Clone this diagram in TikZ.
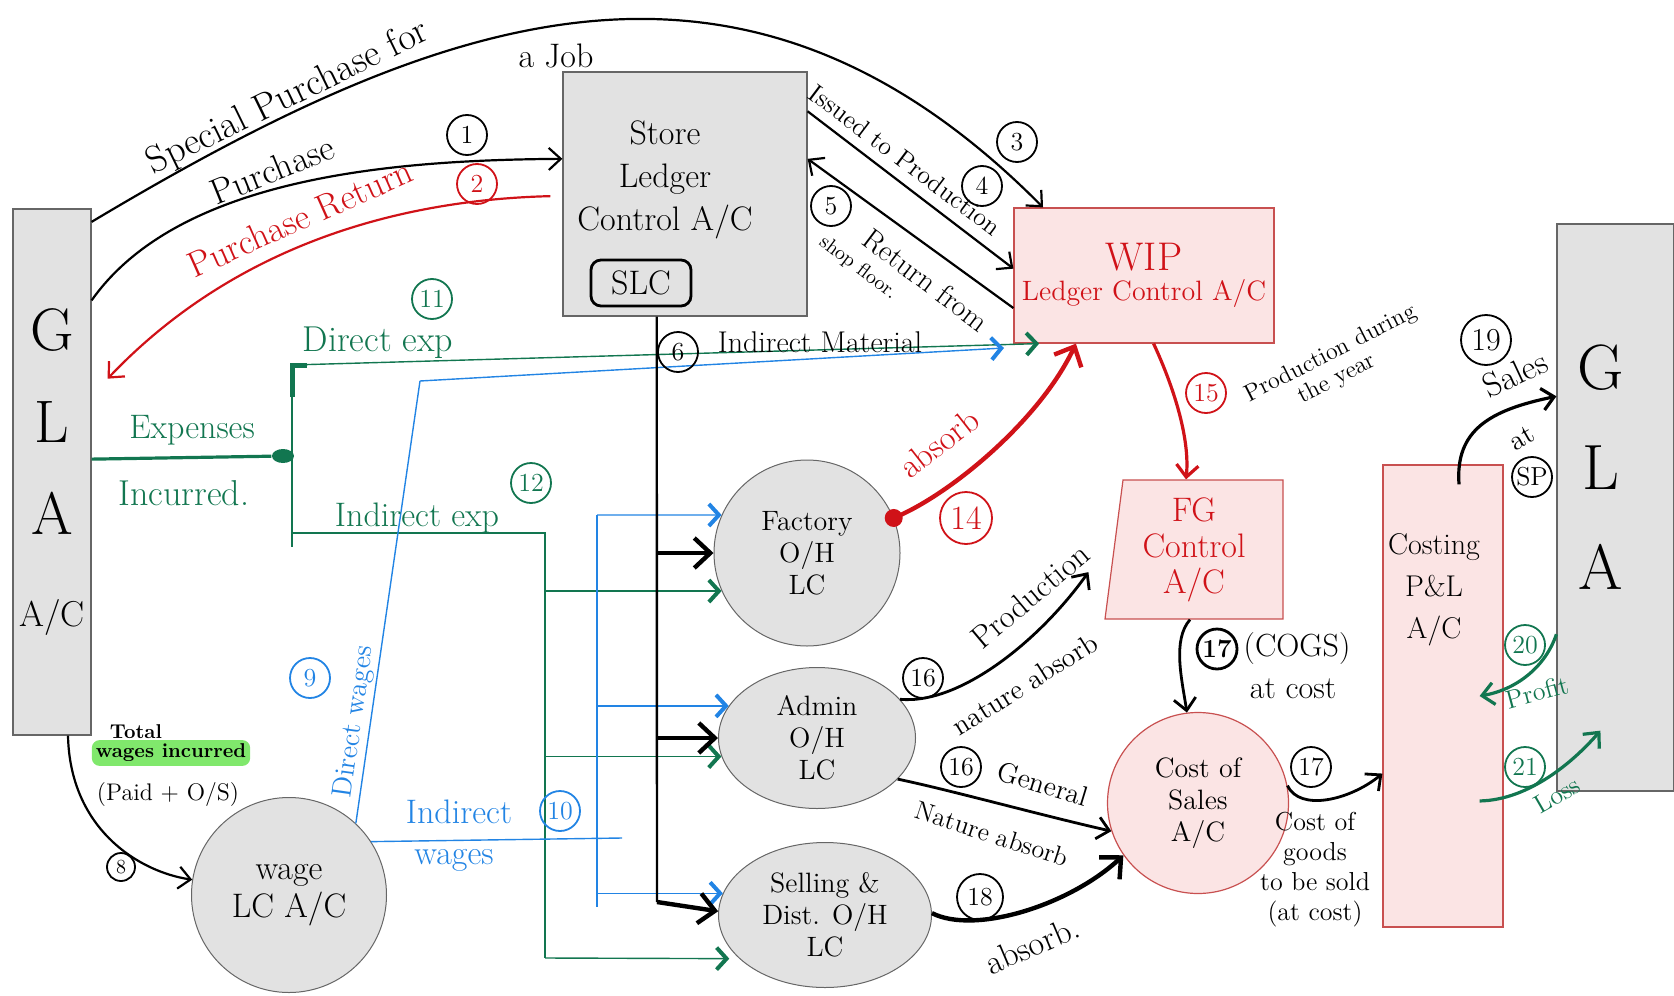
\documentclass[tikz,border=0pt]{standalone}
\usepackage{tikz}
\usetikzlibrary{arrows.meta,shapes.geometric}
\definecolor{inkred}{RGB}{208,18,24}
\definecolor{inkgreen}{RGB}{18,118,80}
\definecolor{inkblue}{RGB}{34,132,228}
\definecolor{boxgray}{RGB}{226,226,226}
\definecolor{boxpink}{RGB}{251,228,228}
\definecolor{pinkline}{RGB}{200,80,80}
\definecolor{hlgreen}{RGB}{128,232,108}
\newcommand{\fsz}[1]{\fontsize{#1}{#1}\selectfont}
\tikzset{
  >={Straight Barb[length=6pt,width=11pt]},
  acc/.style={draw=gray!80!black,fill=boxgray,line width=0.6pt,inner sep=0pt},
  pk/.style={draw=pinkline,fill=boxpink,line width=0.6pt,inner sep=0pt},
  oh/.style={ellipse,draw=gray!80!black,fill=boxgray,line width=0.5pt,inner sep=0pt,align=center,font=\fontsize{14}{16}\selectfont},
  num/.style={circle,draw,line width=0.9pt,inner sep=0.5pt,minimum size=20pt,font=\fsz{13}},
  lbl/.style={inner sep=0pt,font=\fsz{15}},
  ink/.style={line width=1.1pt},
  fat/.style={line width=2.2pt,-{Straight Barb[length=8pt,width=15pt]}},
  feed/.style={line width=0.7pt,-{Straight Barb[line width=2pt,length=5pt,width=11pt]}},
  every picture/.style={line width=0.6pt},
}
\begin{document}
\begin{tikzpicture}[x=0.5pt,y=-0.5pt]
\useasboundingbox (0,0) rectangle (1674,995);
\node[acc,minimum width=39pt,minimum height=263pt,align=center,font=\fontsize{30}{46}\selectfont] (gla) at (52,472) {G\\L\\A\\{\fontsize{18}{46}\selectfont A/C}};
\node[acc,minimum width=58.5pt,minimum height=283.5pt] (glar) at (1615.5,507.5) {};
\node[lbl,align=center,font=\fontsize{32}{50}\selectfont] (glartxt) at (1601,467) {G\\L\\A};
\node[acc,minimum width=122pt,minimum height=122pt] (store) at (685,194) {};
\node[lbl,align=center,font=\fontsize{17}{21.5}\selectfont] (storetxt) at (665,180) {Store\\Ledger\\Control A/C};
\node[draw,line width=1.4pt,rounded corners=5pt,minimum width=50pt,minimum height=23pt,inner sep=2pt,font=\fsz{17}] (slc) at (641,283) {SLC};
\node[pk,minimum width=130pt,minimum height=67.5pt,align=center,text=inkred] (wip) at (1144,275.5) {\fsz{20}WIP\\[3pt]\fsz{14}Ledger Control A/C};
\draw[pk] (1123,480) -- (1283,480) -- (1283,619) -- (1105,619) -- cycle;
\node[minimum width=89pt,minimum height=69.5pt,inner sep=0pt,align=center,text=inkred,font=\fontsize{17}{18}\selectfont] (fg) at (1194,549.5) {FG\\Control\\A/C};
\node[pk,minimum width=60pt,minimum height=231pt] (costing) at (1443,696) {};
\node[lbl,align=center,font=\fontsize{15}{21}\selectfont] (costingtxt) at (1434,590) {Costing\\P\&L\\A/C};
\node[oh,circle,minimum size=97.5pt,font=\fontsize{17}{19}\selectfont] (wage) at (289,895) {wage\\LC A/C};
\node[oh,circle,minimum size=93pt] (factory) at (807,553) {Factory\\O/H\\LC};
\node[oh,minimum width=98.5pt,minimum height=70.5pt] (admin) at (817,738) {Admin\\O/H\\LC};
\node[oh,minimum width=106.5pt,minimum height=72.5pt] (selling) at (825,915) {Selling \&\\Dist. O/H\\LC};
\node[pk,circle,minimum size=90.5pt,align=center,font=\fontsize{14}{16}\selectfont] (cos) at (1198,803) {Cost of\\Sales\\A/C};
\node[ellipse,fill=inkgreen,minimum width=11pt,minimum height=7pt,inner sep=0pt] (dot) at (283,456) {};
\node[circle,fill=inkred,minimum size=9pt,inner sep=0pt] (rdot) at (factory.22) {};
\coordinate (gtop) at (292,365); \coordinate (gbot) at (292,547);
\coordinate (ietop) at (545,533); \coordinate (iebot) at (545,958);
\coordinate (dwknee) at (420,381); \coordinate (dwend) at (1004,348);
\coordinate (bvtop) at (597,515); \coordinate (bvbot) at (597,907);
\coordinate (iwend) at (622,838); \coordinate (vbot) at (657,902);
\draw[ink,->] (gla.81) .. controls (446,10) and (743,-95) .. (wip.146);
\draw[ink,->] (gla.77) .. controls (180,175) and (400,160) .. (store.164);
\draw[ink,inkred,->] ([xshift=-6pt]store.181) .. controls (390,200) and (230,250) .. ([xshift=8pt]gla.67);
\draw[ink,->] (store.34) -- (wip.177); \draw[ink,->] (wip.194) -- (store.16);
\draw[inkgreen,line width=1.6pt] (gla.18) -- (dot);
\draw[inkgreen,line width=0.9pt] (gtop) -- (gbot);
\draw[inkgreen,line width=2.5pt] ([yshift=-16pt]gtop) -- (gtop) -- ++(15,0);
\draw[inkgreen,feed] (gtop) -- (wip.213);
\draw[inkgreen,line width=0.9pt] (gbot |- ietop) -- (ietop) -- (iebot);
\draw[inkgreen,feed] (factory.204 -| ietop) -- (factory.204);
\draw[inkgreen,feed] (admin.191 -| ietop) -- (admin.191);
\draw[inkgreen,feed,shorten >=5pt] (iebot) -- (selling.207);
\draw[inkblue,line width=0.7pt] (wage.47) -- (dwknee);
\draw[inkblue,feed] (dwknee) -- (dwend);
\draw[inkblue,line width=0.7pt] (bvtop) -- (bvbot);
\draw[inkblue,feed] (bvtop) -- (factory.156);
\draw[inkblue,feed] (admin.160 -| bvtop) -- (admin.160);
\draw[inkblue,feed] (selling.168 -| bvtop) -- (selling.168);
\draw[inkblue,line width=0.7pt] (wage.33) -- (iwend);
\draw[line width=1.2pt] (store.257) -- (vbot);
\draw[fat] (factory.180 -| vbot) -- (factory.180);
\draw[fat] (admin.180 -| vbot) -- (admin.180);
\draw[fat] (vbot) -- (selling.178);
\draw[fat,inkred] (rdot.center) .. controls (950,495) and (1040,420) .. (wip.225);
\draw[inkred,line width=1.6pt,->] (wip.278) .. controls (1175,390) and (1190,440) .. ([xshift=-4pt]fg.north);
\draw[ink,line width=1.4pt,->] (admin.25) .. controls (960,705) and (1040,640) .. ([xshift=-8pt,yshift=5pt]fg.200);
\draw[ink,line width=1.4pt,->] (admin.333) .. controls (950,790) and (1040,815) .. (cos.198);
\draw[fat] (selling.1) .. controls (975,935) and (1070,905) .. (cos.215);
\draw[ink,line width=1.4pt,->] ([xshift=-2pt]fg.south) .. controls (1172,640) and (1182,680) .. (cos.97);
\draw[ink,line width=1.4pt,->] (cos.11) .. controls (1300,812) and (1350,800) .. (costing.232);
\draw[ink,line width=1.6pt,->] ([xshift=8pt,yshift=-10pt]costing.north) .. controls (1455,430) and (1490,410) .. (glar.118);
\draw[inkgreen,line width=1.6pt,->] (glar.245) .. controls (1545,668) and (1515,690) .. ([xshift=-12pt]costing.east);
\draw[inkgreen,line width=1.6pt,->] ([xshift=-12pt]costing.300) .. controls (1530,800) and (1575,760) .. ([xshift=22pt,yshift=7pt]glar.256);
\draw[ink,->] ([xshift=8pt]gla.south) .. controls (70,830) and (140,872) .. (wage.171);
\node[lbl,rotate=26,font=\fsz{19}] (splbl) at (288,98) {Special Purchase for};
\node[lbl,font=\fsz{17}] (joblbl) at (556,56) {a Job};
\node[lbl,rotate=22,font=\fsz{18}] (purlbl) at (272,170) {Purchase};
\node[lbl,rotate=24,font=\fsz{18},text=inkred] (prlbl) at (300,218) {Purchase Return};
\node[lbl,rotate=-37,font=\fsz{13}] (isslbl) at (905,160) {Issued to Production};
\node[lbl,rotate=-37] (retlbl) at (926,280) {Return from};
\node[lbl,rotate=-37,font=\fsz{10}] (shoplbl) at (858,268) {shop floor.};
\node[lbl] (imlbl) at (820,342) {Indirect Material};
\node[lbl,font=\fsz{18},text=inkgreen] (dexlbl) at (378,343) {Direct exp};
\node[lbl,font=\fsz{17},text=inkgreen] (explbl) at (192,430) {Expenses};
\node[lbl,font=\fsz{18},text=inkgreen] (inclbl) at (184,493) {Incurred.};
\node[lbl,font=\fsz{17},text=inkgreen] (iexlbl) at (417,518) {Indirect exp};
\node[lbl,rotate=82,font=\fsz{14},text=inkblue] (dwlbl) at (355,722) {Direct wages};
\node[lbl,font=\fsz{17},text=inkblue] (iwlbl) at (459,812) {Indirect};
\node[lbl,font=\fsz{17},text=inkblue] (iwlbl2) at (454,860) {wages};
\node[lbl,font=\bfseries\fsz{10}] (totlbl) at (136,732) {Total};
\node[lbl,font=\bfseries\fsz{10},fill=hlgreen,rounded corners=4pt,inner sep=2pt] (wilbl) at (171,753) {wages incurred};
\node[lbl,font=\fsz{12}] (paidlbl) at (168,795) {(Paid + O/S)};
\node[lbl,rotate=38,font=\fsz{17},text=inkred] (abslbl) at (939,443) {absorb};
\node[lbl,rotate=27,font=\fsz{12}] (pdlbl) at (1331,354) {Production during};
\node[lbl,rotate=27,font=\fsz{12}] (yrlbl) at (1337,379) {the year};
\node[lbl,rotate=40,font=\fsz{16}] (p16lbl) at (1030,596) {Production};
\node[lbl,rotate=32,font=\fsz{14}] (na16lbl) at (1025,684) {nature absorb};
\node[lbl,rotate=-17,font=\fsz{14}] (genlbl) at (1043,784) {General};
\node[lbl,rotate=-18,font=\fsz{13}] (nalbl) at (992,834) {Nature absorb};
\node[lbl,rotate=23,font=\fsz{17}] (ab18lbl) at (1032,945) {absorb.};
\node[lbl,font=\fsz{16}] (cogslbl) at (1297,649) {(COGS)};
\node[lbl,font=\fsz{16}] (atclbl) at (1293,689) {at cost};
\node[lbl,align=center,font=\fontsize{13}{15}\selectfont] (cgslbl) at (1315,870) {Cost of\\goods\\to be sold\\(at cost)};
\node[lbl,rotate=25,font=\fsz{17}] (saleslbl) at (1515,374) {Sales};
\node[lbl,rotate=30,font=\fsz{14}] (atlbl) at (1522,438) {at};
\node[lbl,rotate=15,font=\fsz{13},text=inkgreen] (proflbl) at (1537,692) {Profit};
\node[lbl,rotate=30,font=\fsz{13},text=inkgreen] (losslbl) at (1557,795) {Loss};
\node[num] (n1) at (467,135) {1}; \node[num,inkred] (n2) at (477,184) {2};
\node[num] (n3) at (1017,142) {3}; \node[num] (n4) at (982,186) {4};
\node[num] (n5) at (831,206) {5}; \node[num] (n6) at (678,352) {6};
\node[num,minimum size=14pt,font=\fsz{10}] (n8) at (121,867) {8};
\node[num,inkblue] (n9) at (310,678) {9}; \node[num,inkblue] (n10) at (560,811) {10};
\node[num,inkgreen] (n11) at (432,299) {11}; \node[num,inkgreen] (n12) at (531,483) {12};
\node[num,inkred,minimum size=26pt,font=\fsz{17}] (n14) at (966,518) {14};
\node[num,inkred] (n15) at (1206,393) {15};
\node[num] (n16a) at (923,678) {16}; \node[num] (n16b) at (961,767) {16};
\node[num,line width=1.4pt,font=\bfseries\fsz{13}] (n17a) at (1217,649) {17};
\node[num] (n17b) at (1311,767) {17}; \node[num,minimum size=23pt] (n18) at (980,897) {18};
\node[num,minimum size=25pt,font=\fsz{16}] (n19) at (1486,340) {19};
\node[num] (nsp) at (1532,477) {SP};
\node[num,inkgreen] (n20) at (1525,645) {20}; \node[num,inkgreen] (n21) at (1525,767) {21};
\end{tikzpicture}
\end{document}
